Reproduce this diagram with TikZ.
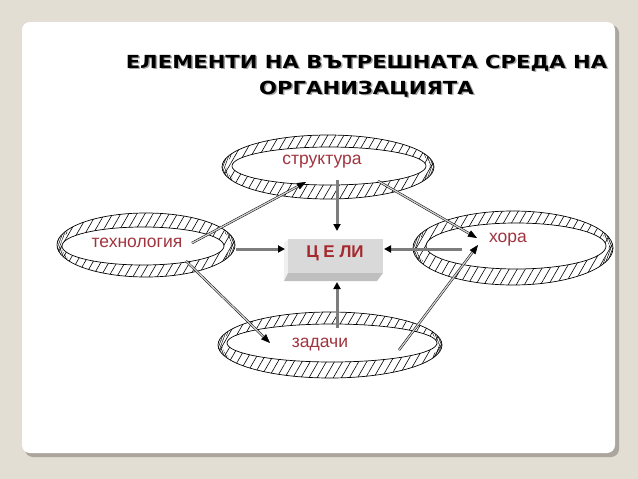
\documentclass[tikz,border=0pt]{standalone}
\usepackage{fontspec}
\setmainfont{Liberation Sans}
\newfontfamily\titlefont{DejaVu Sans}
\usetikzlibrary{arrows.meta,patterns.meta}
\definecolor{bgbeige}{RGB}{226,222,212}
\definecolor{frameshadow}{RGB}{170,166,158}
\definecolor{lblred}{RGB}{160,52,62}
\definecolor{celired}{RGB}{165,40,45}
\definecolor{arrgray}{RGB}{125,125,125}
\tikzset{
  lbl/.style={text=lblred, font=\fontsize{17.5}{19}\selectfont, inner sep=0pt},
  ttl/.style={font=\titlefont\bfseries\fontsize{18}{26}\selectfont, align=center, inner sep=0pt, xscale=1.175},
  graya/.style={draw=arrgray, line width=3pt, -{Triangle[length=7pt,width=7pt,color=black]}},
  dbla/.style={draw=black, line width=0.5pt, double=gray!35, double distance=1.3pt, -{Triangle[length=9pt,width=7pt]}},
  ringline/.style={draw=black, line width=0.7pt},
}
\newcommand\myring[8]{%
  \fill[pattern={Lines[angle=60,distance=7pt,line width=0.6pt]}, even odd rule]
    (#1,#2) ellipse [x radius=#3, y radius=#4] (#5,#6) ellipse [x radius=#7, y radius=#8];
  \begin{scope}
    \clip (#1-#3-2,#2-#4) rectangle (#1-#3+10,#2+#4)
          (#1+#3-10,#2-#4) rectangle (#1+#3+2,#2+#4);
    \fill[pattern={Lines[angle=70,distance=1.8pt,line width=0.5pt]}, even odd rule]
      (#1,#2) ellipse [x radius=#3, y radius=#4] (#1,#2) ellipse [x radius=#3-4, y radius=#4];
  \end{scope}
  \draw[ringline] (#1,#2) ellipse [x radius=#3, y radius=#4];
  \draw[ringline] (#5,#6) ellipse [x radius=#7, y radius=#8];
}
\begin{document}
\begin{tikzpicture}[x=1pt,y=-1pt]
\useasboundingbox (0,0) rectangle (638,479);
\fill[bgbeige] (0,0) rectangle (638,479);
\fill[frameshadow, rounded corners=8pt] (25,25) rectangle (619,457);
\fill[white, rounded corners=8pt] (22,22) rectangle (615,453);

% title
\node[ttl, text=gray!70] at (368,77.5)
  {ЕЛЕМЕНТИ НА ВЪТРЕШНАТА СРЕДА НА\\ОРГАНИЗАЦИЯТА};
\node[ttl, text=black] (title) at (366.5,76)
  {ЕЛЕМЕНТИ НА ВЪТРЕШНАТА СРЕДА НА\\ОРГАНИЗАЦИЯТА};

% rings
\myring{328}{167}{106}{32}{329}{166}{97}{19}
\myring{146}{245}{89}{32}{143}{246}{81}{19}
\myring{513}{248}{100}{37}{516}{246}{90}{23}
\myring{330}{345}{112}{33}{332}{343}{105}{19}

\node[lbl] (str) at (322,162) {структура};
\node[lbl] (teh) at (137,243) {технология};
\node[lbl] (hor) at (508,240) {хора};
\node[lbl] (zad) at (320,345) {задачи};

% ЦЕЛИ box
\fill[gray!12] (288,239) -- (284,243) -- (284,281) -- (288,273) -- cycle;
\fill[gray!50] (284,281) -- (288,273) -- (383,273) -- (377,281) -- cycle;
\fill[gray!30] (288,239) rectangle (383,273);
\node[text=celired, font=\bfseries\fontsize{17}{19}\selectfont, inner sep=0pt] (celi) at (335,253) {Ц Е ЛИ};
\coordinate (celiT) at (337,231);
\coordinate (celiL) at (285,249);
\coordinate (celiR) at (384,249);
\coordinate (celiB) at (337,282);

% gray arrows
\coordinate (strB) at (337,180);
\coordinate (tehR) at (236,249);
\coordinate (horL) at (462,249);
\coordinate (zadT) at (337,328);
\draw[graya] (strB) -- (celiT);
\draw[graya] (tehR) -- (celiL);
\draw[graya] (horL) -- (celiR);
\draw[graya] (zadT) -- (celiB);

% double arrows
\coordinate (a1s) at (192,243); \coordinate (a1e) at (306,182);
\coordinate (a2s) at (378,181); \coordinate (a2e) at (477,238);
\coordinate (a3s) at (186,261); \coordinate (a3e) at (270,343);
\coordinate (a4s) at (399,350); \coordinate (a4e) at (478,245);
\draw[dbla] (a1s) -- (a1e);
\draw[dbla] (a2s) -- (a2e);
\draw[dbla] (a3s) -- (a3e);
\draw[dbla] (a4s) -- (a4e);
\end{tikzpicture}
\end{document}
